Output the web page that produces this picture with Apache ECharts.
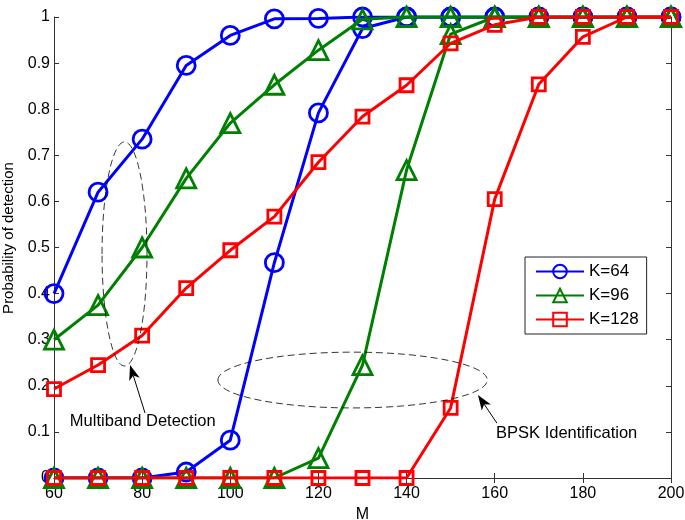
<!DOCTYPE html>
<html>
<head>
<meta charset="utf-8">
<script src="https://cdn.jsdelivr.net/npm/echarts@6/dist/echarts.min.js"></script>
<style>
html,body{margin:0;padding:0;background:#fff;}
#c{width:685px;height:520px;}
</style>
</head>
<body>
<div id="c"></div>
<script>
const M = [60,70,80,90,100,110,120,130,140,150,160,170,180,190,200];
const xTicks = [60,80,100,120,140,160,180,200];
const yTicks = [0,0.1,0.2,0.3,0.4,0.5,0.6,0.7,0.8,0.9,1];
// Multiband detection curves
const det64  = [0.40,0.62,0.735,0.895,0.96,0.996,0.997,1,1,1,1,1,1,1,1];
const det96  = [0.30,0.375,0.50,0.65,0.77,0.853,0.928,0.995,1,1,1,1,1,1,1];
const det128 = [0.193,0.245,0.309,0.412,0.494,0.567,0.685,0.784,0.852,0.943,0.983,1,1,1,1];
// BPSK identification curves
const id64  = [0,0,0,0.013,0.082,0.467,0.792,0.975,1,1,1,1,1,1,1];
const id96  = [0,0,0,0,0,0,0.043,0.245,0.668,0.963,1,1,1,1,1];
const id128 = [0,0,0,0,0,0,0,0,0,0.152,0.605,0.854,0.957,1,1];

const names = ['K=64','K=96','K=128'];
const colors = ['#0000ff','#008000','#ff0000'];
const symbols = ['circle','triangle','rect'];
const symSizes = [18,19,13];

function mk(idx, arr){
  return {
    name: names[idx], type:'line',
    data: M.map((m,i)=>[m,arr[i]]),
    symbol: symbols[idx], symbolSize: symSizes[idx],
    showSymbol:true,
    lineStyle:{color:colors[idx], width:3},
    itemStyle:{color:'rgba(255,255,255,0)', borderColor:colors[idx], borderWidth:2.8},
    emphasis:{disabled:true},
    animation:false, z: 2+idx
  };
}

const chart = echarts.init(document.getElementById('c'), null, {renderer:'canvas'});
const font = 'Liberation Sans, Arial, Helvetica, sans-serif';
const axisCol = '#333';
const baseX = {type:'value', min:60, max:200, interval:20,
  axisLine:{show:true, lineStyle:{color:axisCol, width:1}},
  axisTick:{show:true, inside:true, length:5, lineStyle:{color:axisCol}},
  splitLine:{show:false}};
const baseY = {type:'value', min:0, max:1, interval:0.1,
  axisLine:{show:true, lineStyle:{color:axisCol, width:1}},
  axisTick:{show:true, inside:true, length:5, lineStyle:{color:axisCol}},
  splitLine:{show:false}};

chart.setOption({
  animation:false,
  textStyle:{fontFamily:font},
  grid:{left:54, right:14, top:17, bottom:42, containLabel:false, outerBoundsMode:'none'},
  xAxis:[
    Object.assign({}, baseX, {position:'bottom', name:'M', nameLocation:'middle', nameGap:26,
      nameTextStyle:{fontSize:16, color:'#000', fontFamily:font},
      axisLabel:{fontSize:16, color:'#000', margin:8, fontFamily:font,
        formatter:v=>xTicks.includes(v)?String(v):''}}),
    Object.assign({}, baseX, {position:'top', axisLabel:{show:false}})
  ],
  yAxis:[
    Object.assign({}, baseY, {position:'left',
      axisLabel:{fontSize:16, color:'#000', margin:4, fontFamily:font,
        formatter:v=>{const t=yTicks.find(q=>Math.abs(q-v)<1e-9); return t===undefined?'':String(+t.toFixed(1));}}}),
    Object.assign({}, baseY, {position:'right', axisLabel:{show:false}})
  ],
  legend:{
    orient:'vertical', left:525, top:257,
    data:names,
    itemWidth:48, itemHeight:17, itemGap:7,
    padding:[6,8,6,10],
    borderColor:'#222', borderWidth:1, backgroundColor:'#fff',
    textStyle:{fontSize:17, color:'#000', fontFamily:font},
    selectedMode:false
  },
  series:[mk(0,det64), mk(1,det96), mk(2,det128), mk(0,id64), mk(1,id96), mk(2,id128)]
});

// Annotations defined in data coordinates
const ellipses = [
  {x:[70.9,81.1], y:[0.243,0.729]},
  {x:[97.2,158.3], y:[0.152,0.273]}
];
const arrows = [
  {from:[80.65,0.141], to:[77.25,0.245]},
  {from:[160.5,0.119], to:[156.2,0.180]}
];
const labels = [
  {text:'Multiband Detection', at:[63.6,0.122]},
  {text:'BPSK Identification', at:[160.3,0.0976]}
];

function px(p){ return chart.convertToPixel({gridIndex:0}, p); }
const g = [];
ellipses.forEach(e=>{
  const a = px([e.x[0], e.y[0]]), b = px([e.x[1], e.y[1]]);
  g.push({type:'ellipse', shape:{cx:(a[0]+b[0])/2, cy:(a[1]+b[1])/2, rx:Math.abs(b[0]-a[0])/2, ry:Math.abs(b[1]-a[1])/2},
    style:{fill:null, stroke:'#000', lineWidth:0.8, lineDash:[7,4]}, z:10});
});
arrows.forEach(ar=>{
  const f = px(ar.from), t = px(ar.to);
  const dx=t[0]-f[0], dy=t[1]-f[1], L=Math.hypot(dx,dy), ux=dx/L, uy=dy/L;
  const hl=15, hw=5.5;
  const bx=t[0]-ux*hl, by=t[1]-uy*hl;
  const nx=bx+ux*4, ny=by+uy*4;
  g.push({type:'line', shape:{x1:f[0],y1:f[1],x2:nx,y2:ny}, style:{stroke:'#000', lineWidth:1}, z:10});
  g.push({type:'polygon', shape:{points:[[t[0],t[1]],[bx-uy*hw,by+ux*hw],[nx,ny],[bx+uy*hw,by-ux*hw]]},
    style:{fill:'#000'}, z:10});
});
labels.forEach(l=>{
  const p = px(l.at);
  g.push({type:'text', x:p[0], y:p[1], style:{text:l.text, fontSize:16.5, fill:'#000', fontFamily:font, verticalAlign:'middle', align:'left'}, z:10});
});
// y-axis title
g.push({type:'text', x:9, y:238, rotation:Math.PI/2,
  style:{text:'Probability of detection', fontSize:15, fill:'#000', fontFamily:font, align:'center', verticalAlign:'middle'}, z:10});
chart.setOption({graphic:g});
</script>
</body>
</html>
